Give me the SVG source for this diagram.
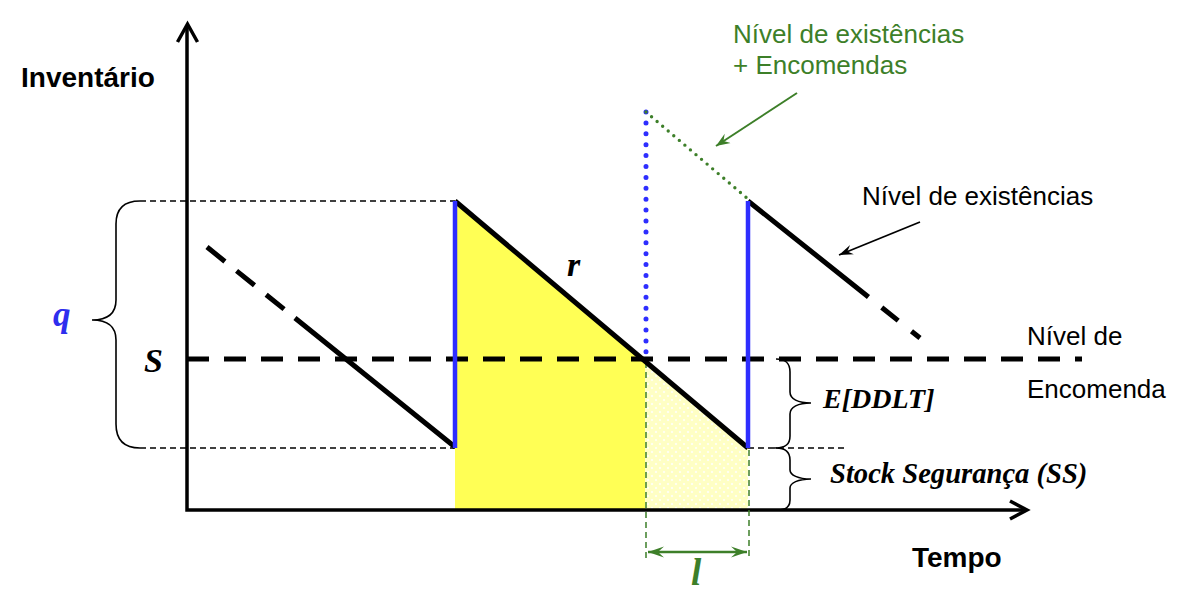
<svg xmlns="http://www.w3.org/2000/svg" width="1190" height="608" viewBox="0 0 1190 608">
<style>
.sans{font-family:"Liberation Sans",Arial,sans-serif;font-size:26px}
.bold{font-family:"Liberation Sans",Arial,sans-serif;font-size:28px;font-weight:bold}
.math{font-family:"Liberation Serif","Times New Roman",serif;font-style:italic;font-weight:bold}
.thin{fill:none;stroke:#000;stroke-width:1.5;stroke-dasharray:6 4}
.brace{fill:none;stroke:#000;stroke-width:1.6}
.gdash{fill:none;stroke:#3d7f29;stroke-width:1.5;stroke-dasharray:6 4}
.saw{fill:none;stroke:#000;stroke-width:5}
.blue{fill:none;stroke:#2e2eff;stroke-width:4.5}
</style>
<defs>
<pattern id="hatch" width="8" height="8" patternUnits="userSpaceOnUse">
<rect width="8" height="8" fill="#ffffc4"/>
<path d="M0,-1.3 L1.3,0 L0,1.3 L-1.3,0Z M8,-1.3 L9.3,0 L8,1.3 L6.7,0Z M0,6.7 L1.3,8 L0,9.3 L-1.3,8Z M8,6.7 L9.3,8 L8,9.3 L6.7,8Z M4,2.7 L5.3,4 L4,5.3 L2.7,4Z" fill="#fff"/>
</pattern>
<marker id="ga" viewBox="-14 -6 16 12" markerWidth="16" markerHeight="12" refX="0" refY="0" orient="auto" markerUnits="userSpaceOnUse">
<path d="M0,0 L-14,-5.5 L-9,0 L-14,5.5Z" fill="#3d7f29"/>
</marker>
<marker id="ba" viewBox="-14 -6 16 12" markerWidth="16" markerHeight="12" refX="0" refY="0" orient="auto" markerUnits="userSpaceOnUse">
<path d="M0,0 L-14,-5 L-9,0 L-14,5Z" fill="#000"/>
</marker>
<marker id="gd" viewBox="-16 -6 18 12" markerWidth="18" markerHeight="12" refX="0" refY="0" orient="auto-start-reverse" markerUnits="userSpaceOnUse">
<path d="M0,0 L-16,-5.5 L-10,0 L-16,5.5Z" fill="#3d7f29"/>
</marker>
</defs>

<g id="areas">
<polygon points="455,201 645,360 645,510 455,510" fill="#ffff55"/>
<polygon points="645,360 748,448 748,510 645,510" fill="url(#hatch)"/>
</g>

<g id="axes">
<path d="M187,25 L187,510 L1026,510" fill="none" stroke="#000" stroke-width="3.5"/>
<path d="M177.5,42 L187.5,24 L197.5,42" fill="none" stroke="#000" stroke-width="3.5"/>
<path d="M1010,501 L1027,510 L1010,519" fill="none" stroke="#000" stroke-width="3.5"/>
</g>

<g id="connectors">
<path class="thin" d="M140,201 L455,201"/>
<path class="thin" d="M140,448 L455,448"/>
<path class="thin" d="M748,448 L846,448"/>
<path class="gdash" d="M646,362 L646,558"/>
<path class="gdash" d="M749,450 L749,558"/>
<path d="M648,552 L747,552" fill="none" stroke="#3d7f29" stroke-width="2.5" marker-start="url(#gd)" marker-end="url(#gd)"/>
<path d="M187,359 L1082,359" fill="none" stroke="#000" stroke-width="5" stroke-dasharray="22 15"/>
<path class="saw" d="M207,247 L455,447" stroke-dasharray="23 15 23 15 23 14 400"/>
<path class="saw" d="M455,201 L748,448"/>
<path class="saw" d="M748,201 L920,338" stroke-dasharray="154 17 21 17 12 50"/>
<path class="blue" d="M455,201 L455,448"/>
<path class="blue" d="M748,201 L748,448"/>
<path d="M646,112 L646,354" fill="none" stroke="#2e2eff" stroke-width="5" stroke-linecap="round" stroke-dasharray="0 10.9"/>
<path d="M646,112 L748,199" fill="none" stroke="#3d7f29" stroke-width="3.4" stroke-linecap="round" stroke-dasharray="0 7.3"/>
<path d="M797,93 L716,146" fill="none" stroke="#3d7f29" stroke-width="2" marker-end="url(#ga)"/>
<path d="M920,222 L839,255" fill="none" stroke="#000" stroke-width="1.8" marker-end="url(#ba)"/>
</g>

<g id="braces">
<path class="brace" d="M140,201 C124,201 116,209 116,224 L116,300 C116,313 108,320 92,320 C108,320 116,327 116,340 L116,424 C116,440 124,448 140,448"/>
<path class="brace" d="M776,359 C786,359 790,363 790,372 L790,392 C790,399 798,403 811,403 C798,403 790,407 790,414 L790,436 C790,444 786,448 774,448"/>
<path class="brace" d="M776,448 C786,448 790,452 790,460 L790,470 C790,475 798,479 811,479 C798,479 790,483 790,488 L790,500 C790,507 786,510 778,510"/>
</g>

<g id="labels">
<text class="bold" x="21" y="87">Inventário</text>
<text class="bold" x="912" y="567">Tempo</text>
<text class="math" x="53" y="326" font-size="35" fill="#2e2eee">q</text>
<text class="math" x="144" y="372" font-size="34">S</text>
<text class="math" x="567" y="276" font-size="34">r</text>
<text class="math" x="691" y="585" font-size="37" fill="#3d7f29">l</text>
<text class="math" x="823" y="408" font-size="28">E[DDLT]</text>
<text class="math" x="830" y="483" font-size="28.6">Stock Segurança (SS)</text>
<text class="sans" x="733" y="43" fill="#3d7f29">Nível de existências</text>
<text class="sans" x="733" y="74" fill="#3d7f29">+ Encomendas</text>
<text class="sans" x="862" y="205">Nível de existências</text>
<text class="sans" x="1027" y="345">Nível de</text>
<text class="sans" x="1027" y="398">Encomenda</text>
</g>
</svg>
